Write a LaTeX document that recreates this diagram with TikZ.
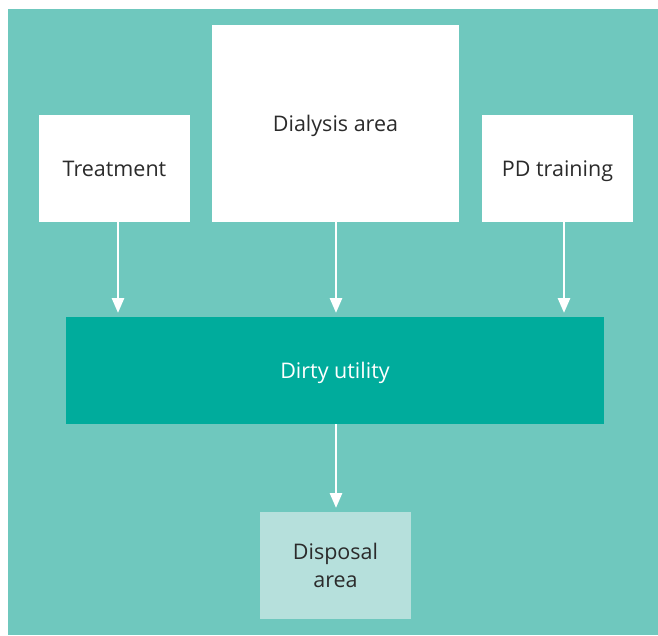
\documentclass[tikz,border=0pt]{standalone}
\usepackage{fontspec}
\setmainfont{Open Sans}
\usetikzlibrary{arrows.meta}
\definecolor{bgteal}{HTML}{6FC8BE}
\definecolor{darkteal}{HTML}{00AC9C}
\definecolor{lightteal}{HTML}{B6E0DC}
\definecolor{txt}{HTML}{2B2B2B}
\begin{document}
\begin{tikzpicture}[x=1pt,y=-1pt,
  box/.style={draw=none,inner sep=0pt,font=\fontsize{21.5}{28}\selectfont,text=txt,align=center,text depth=0pt},
  arr/.style={draw=white,line width=2.8pt,-{Triangle[length=15pt,width=12pt]}}]
\useasboundingbox (0,0) rectangle (658,635);
\fill[bgteal] (8,9) rectangle (658,635);
\node[box,fill=white,minimum width=151pt,minimum height=107pt] (treat) at (114.5,168.5) {Treatment};
\node[box,fill=white,minimum width=247pt,minimum height=197pt] (dial) at (335.5,123.5) {Dialysis area};
\node[box,fill=white,minimum width=151pt,minimum height=107pt] (pd) at (557.5,168.5) {PD training};
\node[box,fill=darkteal,text=white,minimum width=538pt,minimum height=107pt] (dirty) at (335,370.5) {Dirty utility};
\node[box,fill=lightteal,minimum width=151pt,minimum height=107pt] (disp) at (335.5,565.5) {Disposal\\area};
\coordinate (t1) at (118,313);
\coordinate (t2) at (336,313);
\coordinate (t3) at (564,313);
\coordinate (t4) at (336,508);
\draw[arr] (treat.south -| t1) -- (t1);
\draw[arr] (dial.south -| t2) -- (t2);
\draw[arr] (pd.south -| t3) -- (t3);
\draw[arr] (dirty.south -| t4) -- (t4);
\end{tikzpicture}
\end{document}
